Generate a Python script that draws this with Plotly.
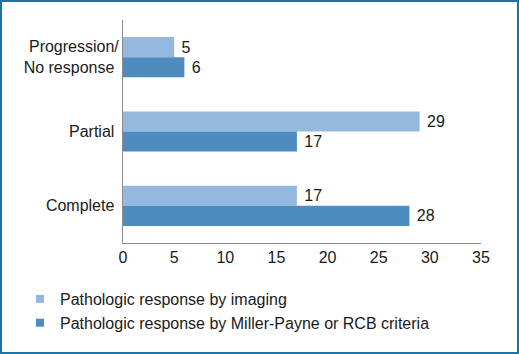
import plotly.graph_objects as go

categories = ["Progression/<br>No response", "Partial", "Complete"]
imaging = [5, 29, 17]
miller_payne = [6, 17, 28]
series_names = ["Pathologic response by imaging",
                "Pathologic response by Miller-Payne or RCB criteria"]
colors = ["#95B9DE", "#4E8BBF"]
x_ticks = [0, 5, 10, 15, 20, 25, 30, 35]

W, H = 519, 354
ml, mr, mt, mb = 123, 38, 20, 111
pw, ph = W - ml - mr, H - mt - mb

FAM = "Arial, Liberation Sans, sans-serif"
font = dict(family=FAM, size=16, color="#1a1a1a")

fig = go.Figure()
for vals, name, col in zip([imaging, miller_payne], series_names, colors):
    fig.add_trace(go.Bar(y=categories, x=vals, orientation="h", name=name,
                         marker=dict(color=col, line=dict(width=0)),
                         text=vals, texttemplate=" %{x}", textposition="outside",
                         textfont=font, cliponaxis=False, showlegend=False))
for i, (name, col) in enumerate(zip(series_names, colors)):
    fig.add_trace(go.Scatter(x=[None], y=[None], mode="markers", name=name,
                             marker=dict(symbol="square", size=8, color=col),
                             legendgroup=f"g{i}", showlegend=True))

# outer border
fig.add_shape(type="rect", xref="paper", yref="paper",
              x0=(1 - ml) / pw, x1=(W - 1 - ml) / pw,
              y0=-(mb - 1) / ph, y1=1 + (mt - 1) / ph,
              line=dict(color="#1B72A6", width=2), layer="above")

fig.update_layout(
    width=W, height=H,
    margin=dict(l=ml, r=mr, t=mt, b=mb),
    paper_bgcolor="white", plot_bgcolor="white",
    barmode="group", bargap=0.46, bargroupgap=0,
    font=font,
    showlegend=True,
    legend=dict(orientation="v", traceorder="normal",
                x=(20 - ml) / pw, xanchor="left",
                y=-(282 - (mt + ph)) / ph, yanchor="top",
                font=font, itemwidth=30, tracegroupgap=5,
                bgcolor="rgba(0,0,0,0)"),
    xaxis=dict(range=[0, 35], tickvals=x_ticks, showgrid=False, zeroline=False,
               showline=True, linecolor="#8c8c8c", linewidth=1, ticks="",
               tickfont=font),
    yaxis=dict(autorange="reversed", showgrid=False, zeroline=False,
               showline=True, linecolor="#8c8c8c", linewidth=1, ticks="",
               tickfont=font, ticksuffix=" "),
)

fig.write_html("out.html")
